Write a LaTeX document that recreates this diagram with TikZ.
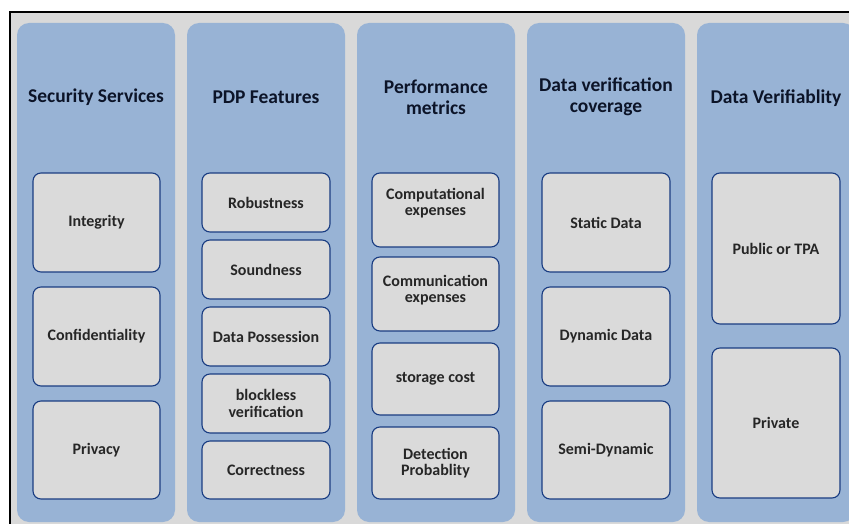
\documentclass[tikz,border=0pt]{standalone}
\usepackage{fontspec}
\setmainfont{Carlito}
\definecolor{bggray}{RGB}{217,217,217}
\definecolor{colblue}{RGB}{152,179,213}
\definecolor{boxgray}{RGB}{218,218,218}
\definecolor{boxline}{RGB}{25,60,130}
\definecolor{titleink}{RGB}{12,20,40}
\begin{document}
\begin{tikzpicture}[x=1pt,y=-1pt,
  column/.style={fill=colblue,draw=none,rounded corners=12pt},
  itembox/.style={fill=boxgray,draw=boxline,line width=1.1pt,rounded corners=8pt},
  title/.style={font=\bfseries\fontsize{19.5}{21}\selectfont,text=titleink,align=center},
  label/.style={font=\bfseries\fontsize{16}{16.5}\selectfont,text=black!85,align=center}]
\useasboundingbox (0,0) rectangle (849,524);
\fill[white] (0,0) rectangle (849,524);
\fill[bggray] (10,12) rectangle (849,524);
\draw[black,line width=2.2pt] (10,526) -- (10,12) -- (851,12);
% columns
\foreach \i in {0,...,4}{
  \path[column] (17+170*\i,23) rectangle (175+170*\i,522);
}
% titles
\node[title] (t1) at (96,97) {Security Services};
\node[title] (t2) at (266,97) {PDP Features};
\node[title] (t3) at (436,97) {Performance\\metrics};
\node[title] (t4) at (606,97) {Data verification\\coverage};
\node[title] (t5) at (776,98) {Data Verifiablity};
% column 1
\draw[itembox] (33,173) rectangle (160,272) node[label,midway] (a1) {Integrity};
\draw[itembox] (33,287) rectangle (160,386) node[label,midway] (a2) {Confidentiality};
\draw[itembox] (33,401) rectangle (160,499) node[label,midway] (a3) {Privacy};
% column 2
\draw[itembox] (202,173) rectangle (330,232) node[label,midway] (b1) {Robustness};
\draw[itembox] (202,240) rectangle (330,299) node[label,midway] (b2) {Soundness};
\draw[itembox] (202,307) rectangle (330,366) node[label,midway] (b3) {Data Possession};
\draw[itembox] (202,374) rectangle (330,433) node[label,midway] (b4) {blockless\\verification};
\draw[itembox] (202,441) rectangle (330,499) node[label,midway] (b5) {Correctness};
% column 3
\draw[itembox] (372,173) rectangle (499,247) node[label,midway,yshift=7pt] (c1) {Computational\\expenses};
\draw[itembox] (372,257) rectangle (499,331) node[label,midway,yshift=4pt] (c2) {Communication\\expenses};
\draw[itembox] (372,343) rectangle (499,415) node[label,midway] (c3) {storage cost};
\draw[itembox] (372,427) rectangle (499,499) node[label,midway] (c4) {Detection\\Probablity};
% column 4
\draw[itembox] (542,173) rectangle (670,272) node[label,midway] (d1) {Static Data};
\draw[itembox] (542,287) rectangle (670,386) node[label,midway] (d2) {Dynamic Data};
\draw[itembox] (542,401) rectangle (670,499) node[label,midway] (d3) {Semi-Dynamic};
% column 5
\draw[itembox] (712,173) rectangle (840,324) node[label,midway] (e1) {Public or TPA};
\draw[itembox] (712,348) rectangle (840,498) node[label,midway] (e2) {Private};
\end{tikzpicture}
\end{document}
